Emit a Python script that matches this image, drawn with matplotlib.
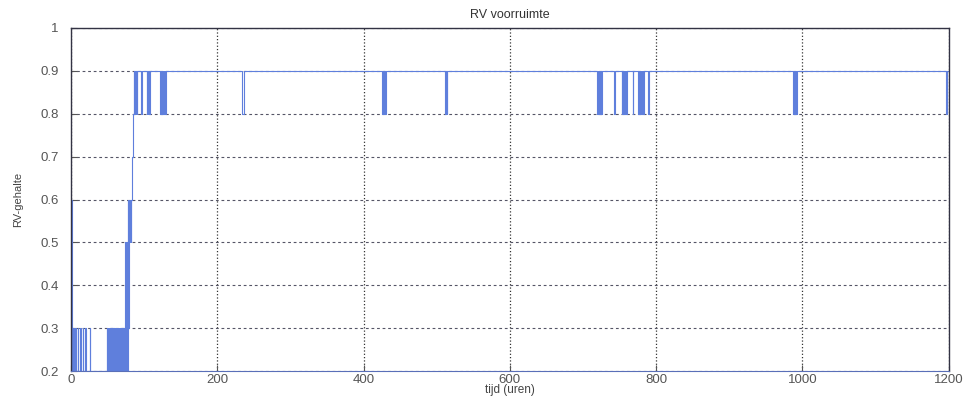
import numpy as np
import matplotlib.pyplot as plt

plt.rcParams['font.family'] = ['Liberation Sans', 'DejaVu Sans']

# opstart: lage RV met snelle schakelingen (uren, RV-gehalte)
hrs_a = [0, 0.8, 1.5, 2.2, 2.8, 3.5, 4.1, 5.0, 5.6, 6.8, 7.3, 9.5, 10.0, 12.6, 13.1,
         16.5, 17.0, 19.8, 20.3, 25.5, 26.0]
rv_a = [0.6, 0.3, 0.2, 0.3, 0.2, 0.3, 0.2, 0.3, 0.2, 0.3, 0.2, 0.3, 0.2, 0.3, 0.2,
        0.3, 0.2, 0.3, 0.2, 0.3, 0.2]

hrs_b = [49, 49.8, 50.5, 51.2, 52, 52.6, 53.5, 54.2, 55, 55.6, 56.5, 57.0, 58, 58.7,
         59.5, 60.2, 61, 61.6, 62.5, 63.2, 64, 64.6, 65.5, 66.1, 67, 67.8, 68.5, 69.2,
         70, 70.5, 71.5, 72.2, 73, 73.6]
rv_b = [0.3, 0.2, 0.3, 0.2, 0.3, 0.2, 0.3, 0.2, 0.3, 0.2, 0.3, 0.2, 0.3, 0.2,
        0.3, 0.2, 0.3, 0.2, 0.3, 0.2, 0.3, 0.2, 0.3, 0.2, 0.3, 0.2, 0.3, 0.2,
        0.3, 0.2, 0.3, 0.2, 0.3, 0.2]

hrs_c = [74, 74.6, 75.2, 75.8, 76.4, 77, 77.6, 78.2, 78.8, 79.4, 80, 80.6, 81.2, 81.8]
rv_c = [0.5, 0.2, 0.5, 0.3, 0.5, 0.2, 0.6, 0.3, 0.5, 0.4, 0.6, 0.5, 0.6, 0.5]

hrs_d = [82, 83.5, 85]
rv_d = [0.6, 0.7, 0.8]

hrs_e = [86, 86.8, 87.5, 88.3, 89, 89.7, 90.3, 96, 96.7, 104, 104.6, 105.3, 106, 106.7,
         107.4, 108, 108.6, 122, 122.6, 123.3, 124, 124.7, 125.5, 126.2, 127, 127.7,
         128.5, 129.2, 130]
rv_e = [0.9, 0.8, 0.9, 0.8, 0.9, 0.8, 0.9, 0.8, 0.9, 0.8, 0.9, 0.8, 0.9, 0.8,
        0.9, 0.8, 0.9, 0.8, 0.9, 0.8, 0.9, 0.8, 0.9, 0.8, 0.9, 0.8,
        0.9, 0.8, 0.9]

# korte dalingen van 0.9 naar 0.8 na de opstart
dip_start = [234, 425, 427.5, 430, 512, 513.5, 719, 720.5, 722, 723.5, 725, 743,
             753, 754.5, 756, 757.5, 759, 768, 775, 776.5, 778, 779.5, 781, 782.5,
             789, 987, 988.5, 990, 991.5, 1197]
dip_end = [236, 426, 428.5, 431, 513, 514.5, 720, 721.5, 723, 724.5, 726, 744,
           754, 755.5, 757, 758.5, 760, 769, 776, 777.5, 779, 780.5, 782, 783.5,
           790, 988, 989.5, 991, 992.5, 1198]
rv_hoog, rv_laag = 0.9, 0.8
t_eind = 1200

t = hrs_a + hrs_b + hrs_c + hrs_d + hrs_e
rv = rv_a + rv_b + rv_c + rv_d + rv_e
for s, e in zip(dip_start, dip_end):
    t += [s, e]
    rv += [rv_laag, rv_hoog]
t.append(t_eind)
rv.append(rv_hoog)

fig = plt.figure(figsize=(9.72, 3.99), dpi=100)
ax = fig.add_axes([0.073, 0.07, 0.903, 0.86])

ax.plot(t, rv, drawstyle='steps-post', color='#5f7fdc', lw=0.8)

ax.set_xlim(0, 1200)
ax.set_ylim(0.2, 1)
ax.set_xticks(np.arange(0, 1201, 200))
ax.set_yticks(np.arange(0.2, 1.01, 0.1))
ax.set_yticklabels(['0.2', '0.3', '0.4', '0.5', '0.6', '0.7', '0.8', '0.9', '1'])

ax.xaxis.grid(True, linestyle=':', color='#333333', lw=0.9)
ax.yaxis.grid(True, linestyle=(0, (2.5, 2.5)), color='#555566', lw=0.8)
ax.tick_params(direction='in', length=4, labelsize=9.5, colors='#555555',
               top=False, right=False)
ax.tick_params(axis='y', pad=9)
ax.tick_params(axis='x', pad=2)

for side in ['top', 'left', 'right']:
    ax.spines[side].set_color('#333344')
    ax.spines[side].set_linewidth(1.0)
ax.spines['bottom'].set_color('#5a6fb8')

ax.set_title('RV voorruimte', fontsize=9, color='#333333', pad=7)
ax.set_xlabel('tijd (uren)', fontsize=8.5, color='#444444', labelpad=-1)
ax.set_ylabel('RV-gehalte', fontsize=8, color='#444444', labelpad=12)

fig.savefig('out.png', dpi=100, facecolor='white')
